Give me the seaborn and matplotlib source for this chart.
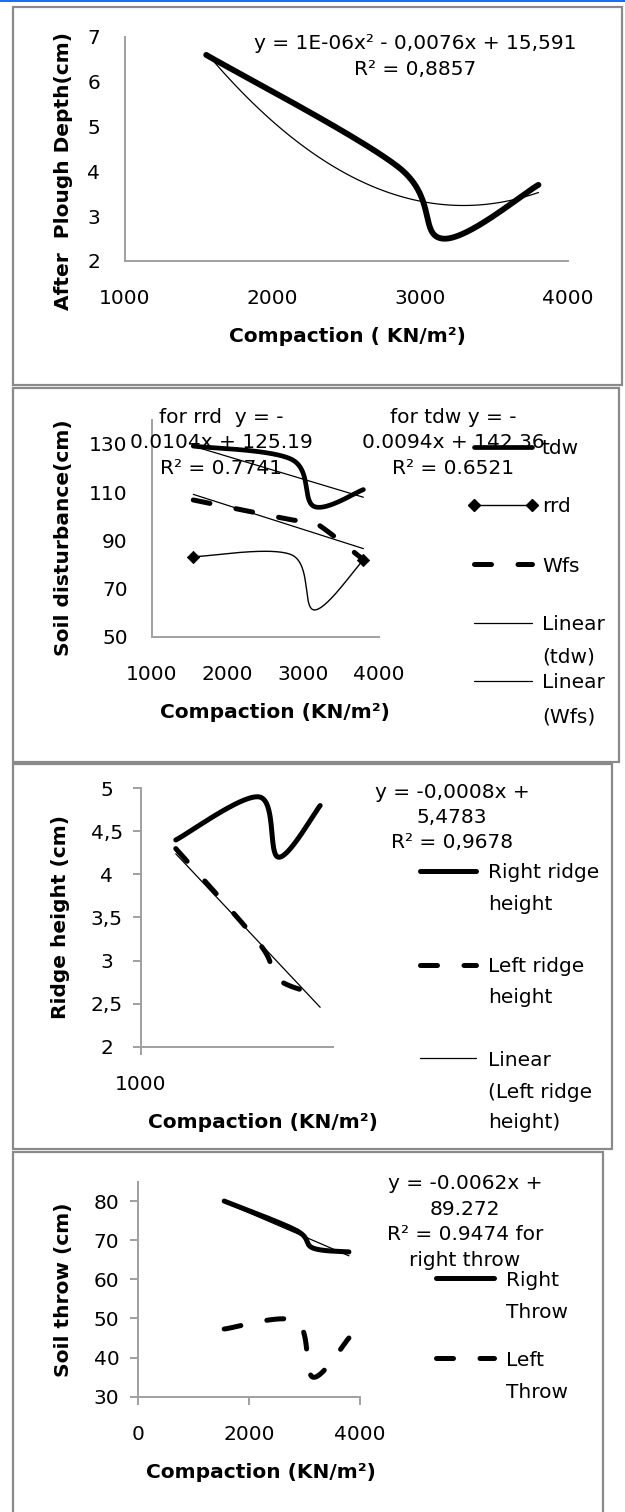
import numpy as np
import matplotlib
matplotlib.use("Agg")
import matplotlib.pyplot as plt
import seaborn as sns
from matplotlib.lines import Line2D
from matplotlib.patches import Rectangle

# ------------------------------------------------------------------ data
compaction = [1550, 2850, 3150, 3800]          # KN/m2 (shared x)

plough_depth = [6.6, 4.1, 2.5, 3.7]             # chart 1

tdw = [129.0, 123.5, 104.0, 111.0]              # chart 2
rrd = [83.2, 84.0, 61.2, 82.0]
wfs = [106.7, 98.5, 97.5, 82.0]

right_ridge = [4.4, 4.9, 4.2, 4.8]              # chart 3
left_ridge = [4.3, 3.2, 2.78, 2.6]

right_throw = [80.0, 72.5, 68.0, 67.0]          # chart 4
left_throw = [47.3, 49.3, 35.0, 45.0]

p1_xticks = [1000, 2000, 3000, 4000]
p1_yticks = [2, 3, 4, 5, 6, 7]
p2_xticks = [1000, 2000, 3000, 4000]
p2_yticks = [50, 70, 90, 110, 130]
p3_xticks = [1000]
p3_yticks = [2, 2.5, 3, 3.5, 4, 4.5, 5]
p3_yticklabels = ["2", "2,5", "3", "3,5", "4", "4,5", "5"]
p4_xticks = [0, 2000, 4000]
p4_yticks = [30, 40, 50, 60, 70, 80]

eq1 = "y = 1E-06x² - 0,0076x + 15,591\nR² = 0,8857"
eq2_rrd = "for rrd  y = -\n0.0104x + 125.19\nR² = 0.7741"
eq2_tdw = "for tdw y = -\n0.0094x + 142.36\nR² = 0.6521"
eq3 = "y = -0,0008x +\n5,4783\nR² = 0,9678"
eq4 = "y = -0.0062x +\n89.272\nR² = 0.9474 for\nright throw"

# ------------------------------------------------------------------ setup
sns.set_theme(style="white")
plt.rcParams["font.family"] = ["DejaVu Sans"]
plt.rcParams["text.color"] = "black"
plt.rcParams["axes.labelcolor"] = "black"
plt.rcParams["xtick.color"] = "black"
plt.rcParams["ytick.color"] = "black"
FS = 14.5
W, H = 625, 1512
fig = plt.figure(figsize=(W / 100, H / 100), dpi=100)
fig.patch.set_facecolor("white")
AX_C = "#a0a0a0"
DASH = [3.4, 5.3]


def fxy(x, y):
    return x / W, 1 - y / H


def add_axes(l, r, t, b):
    ax = fig.add_axes([l / W, 1 - b / H, (r - l) / W, (b - t) / H])
    ax.set_facecolor("none")
    return ax


def excel_smooth(x, y, n=60):
    P = np.column_stack([np.asarray(x, float), np.asarray(y, float)])
    m = len(P)
    t = np.linspace(0, 1, n)[1:, None]
    out = [P[0]]
    for i in range(m - 1):
        p0 = P[i - 1] if i > 0 else P[i]
        p1, p2 = P[i], P[i + 1]
        p3 = P[i + 2] if i + 2 < m else P[i + 1]
        c1 = p1 + (p2 - p0) / 6.0
        c2 = p2 - (p3 - p1) / 6.0
        seg = (1 - t) ** 3 * p1 + 3 * (1 - t) ** 2 * t * c1 + 3 * (1 - t) * t ** 2 * c2 + t ** 3 * p2
        out.extend(seg)
    out = np.array(out)
    return out[:, 0], out[:, 1]


def curve(ax, x, y, lw, dashed=False):
    xs, ys = excel_smooth(x, y)
    sns.lineplot(x=xs, y=ys, ax=ax, sort=False, estimator=None, color="black",
                 linewidth=lw, legend=False)
    ln = ax.lines[-1]
    ln.set_solid_capstyle("round")
    ln.set_solid_joinstyle("round")
    if dashed:
        ln.set_dashes(DASH)
        ln.set_dash_capstyle("round")
    return ln


def trend(ax, x, y, order=1):
    sns.regplot(x=np.asarray(x, float), y=np.asarray(y, float), ax=ax, order=order,
                ci=None, scatter=False, truncate=True,
                line_kws=dict(color="black", linewidth=0.9))
    return ax.lines[-1]


def style(ax, xlim, ylim, xticks, yticks, yticklabels=None, ticklen=0.0,
          xpad=20.0, ypad=18.0, yha="right"):
    ax.set_xlim(xlim)
    ax.set_ylim(ylim)
    ax.set_xticks(xticks)
    ax.set_yticks(yticks)
    if yticklabels is not None:
        ax.set_yticklabels(yticklabels)
    for s in ["top", "right"]:
        ax.spines[s].set_visible(False)
    for s in ["left", "bottom"]:
        ax.spines[s].set_color(AX_C)
        ax.spines[s].set_linewidth(1.4)
    ax.tick_params(axis="both", length=ticklen, width=1.4, color=AX_C,
                   labelsize=FS, labelcolor="black", direction="out",
                   bottom=ticklen > 0, left=ticklen > 0, top=False, right=False)
    ax.tick_params(axis="x", pad=xpad)
    ax.tick_params(axis="y", pad=ypad)
    for lab in ax.get_yticklabels():
        lab.set_ha(yha)
    ax.grid(False)


def labels(ax, xl, xpos, yl, ypos):
    ax.set_xlabel(xl, fontsize=FS, fontweight="bold", va="center", ha="center", color="black")
    ax.xaxis.set_label_coords(*fxy(*xpos), transform=fig.transFigure)
    ax.set_ylabel(yl, fontsize=FS, fontweight="bold", va="center", ha="center", color="black")
    ax.yaxis.set_label_coords(*fxy(*ypos), transform=fig.transFigure)


def entry(handle, text, x, y, hl_px, pad_px, more=()):
    em = FS * 100 / 72
    leg = fig.legend([handle], [text], loc="center left", bbox_to_anchor=fxy(x, y),
                     bbox_transform=fig.transFigure, frameon=False, borderpad=0,
                     borderaxespad=0, handlelength=hl_px / em, handletextpad=pad_px / em,
                     fontsize=FS, numpoints=2)
    for t in leg.get_texts():
        t.set_color("black")
    for txt, yy in more:
        fig.text(*fxy(x + hl_px + pad_px, yy), txt, fontsize=FS, ha="left", va="center",
                 color="black")


def note(text, x, y):
    fig.text(*fxy(x, y), text, fontsize=FS, ha="center", va="center",
             multialignment="center", linespacing=1.43, color="black")


def border(l, r, t, b):
    fig.add_artist(Rectangle(fxy(l, b), (r - l) / W, (b - t) / H, transform=fig.transFigure,
                             fill=False, ec="#8a8a8a", lw=1.6))


# top blue rule and panel frames
fig.add_artist(Rectangle((0, 1 - 2 / H), 1, 2 / H, transform=fig.transFigure,
                         fc="#1a6ff0", ec="none"))
border(13, 621.5, 7.5, 385)
border(13, 619, 388, 762)
border(13, 611.5, 763.5, 1149)
border(13, 602.5, 1152, 1520)

# ------------------------------------------------------------------ chart 1
ax1 = add_axes(125, 568, 37, 261)
curve(ax1, compaction, plough_depth, 4.2)
trend(ax1, compaction, plough_depth, order=2)
style(ax1, (1000, 4000), (2, 7), p1_xticks, p1_yticks, xpad=20, ypad=18)
labels(ax1, "Compaction ( KN/m²)", (347, 337), "After  Plough Depth(cm)", (64, 171))
note(eq1, 415, 56.5)

# ------------------------------------------------------------------ chart 2
ax2 = add_axes(151.7, 378.5, 419.5, 637)
l_tdw = curve(ax2, compaction, tdw, 3.4)
l_rrd = curve(ax2, compaction, rrd, 1.0)
sns.scatterplot(x=[compaction[0], compaction[-1]], y=[rrd[0], rrd[-1]], ax=ax2,
                marker="D", s=40, color="black", edgecolor="black", legend=False, zorder=5)
l_wfs = curve(ax2, compaction, wfs, 3.6, dashed=True)
t_tdw = trend(ax2, compaction, tdw)
t_wfs = trend(ax2, compaction, wfs)
style(ax2, (1000, 4000), (50, 140), p2_xticks, p2_yticks, xpad=20, ypad=17.3)
labels(ax2, "Compaction (KN/m²)", (275, 713), "Soil disturbance(cm)", (64, 538))
note(eq2_rrd, 221, 443)
note(eq2_tdw, 453, 443)
rrd_handle = Line2D([], [], color="black", lw=1.0, marker="D", ms=6.3)
entry(l_tdw, "tdw", 468, 449, 70, 4)
entry(rrd_handle, "rrd", 468, 507, 70, 4)
entry(l_wfs, "Wfs", 468, 566, 70, 4)
entry(t_tdw, "Linear", 468, 625, 70, 4, more=[("(tdw)", 657)])
entry(t_wfs, "Linear", 468, 683, 70, 4, more=[("(Wfs)", 717)])

# ------------------------------------------------------------------ chart 3
ax3 = add_axes(140.5, 333, 788.3, 1046.7)
l_rr = curve(ax3, compaction, right_ridge, 3.6)
l_lr = curve(ax3, compaction, left_ridge, 3.6, dashed=True)
t_lr = trend(ax3, compaction, left_ridge)
style(ax3, (1000, 4000), (2, 5), p3_xticks, p3_yticks, yticklabels=p3_yticklabels,
      ticklen=5.8, xpad=14.4, ypad=18.5, yha="center")
labels(ax3, "Compaction (KN/m²)", (263, 1122), "Ridge height (cm)", (60, 917))
note(eq3, 452, 817.5)
entry(l_rr, "Right ridge", 414, 873, 68, 6, more=[("height", 905)])
entry(l_lr, "Left ridge", 414, 967, 68, 6, more=[("height", 998)])
entry(t_lr, "Linear", 414, 1060, 68, 6, more=[("(Left ridge", 1092), ("height)", 1123)])

# ------------------------------------------------------------------ chart 4
ax4 = add_axes(138.3, 360, 1181.5, 1396.7)
l_rt = curve(ax4, compaction, right_throw, 3.6)
l_lt = curve(ax4, compaction, left_throw, 3.6, dashed=True)
trend(ax4, compaction, right_throw)
style(ax4, (0, 4000), (30, 85), p4_xticks, p4_yticks, ticklen=5.8, xpad=14.4, ypad=7.9)
labels(ax4, "Compaction (KN/m²)", (261, 1473), "Soil throw (cm)", (64, 1290))
note(eq4, 465, 1222)
entry(l_rt, "Right", 430, 1280, 70, 6, more=[("Throw", 1312)])
entry(l_lt, "Left", 430, 1360, 70, 6, more=[("Throw", 1392)])

fig.savefig("out.png", dpi=100, facecolor="white")
